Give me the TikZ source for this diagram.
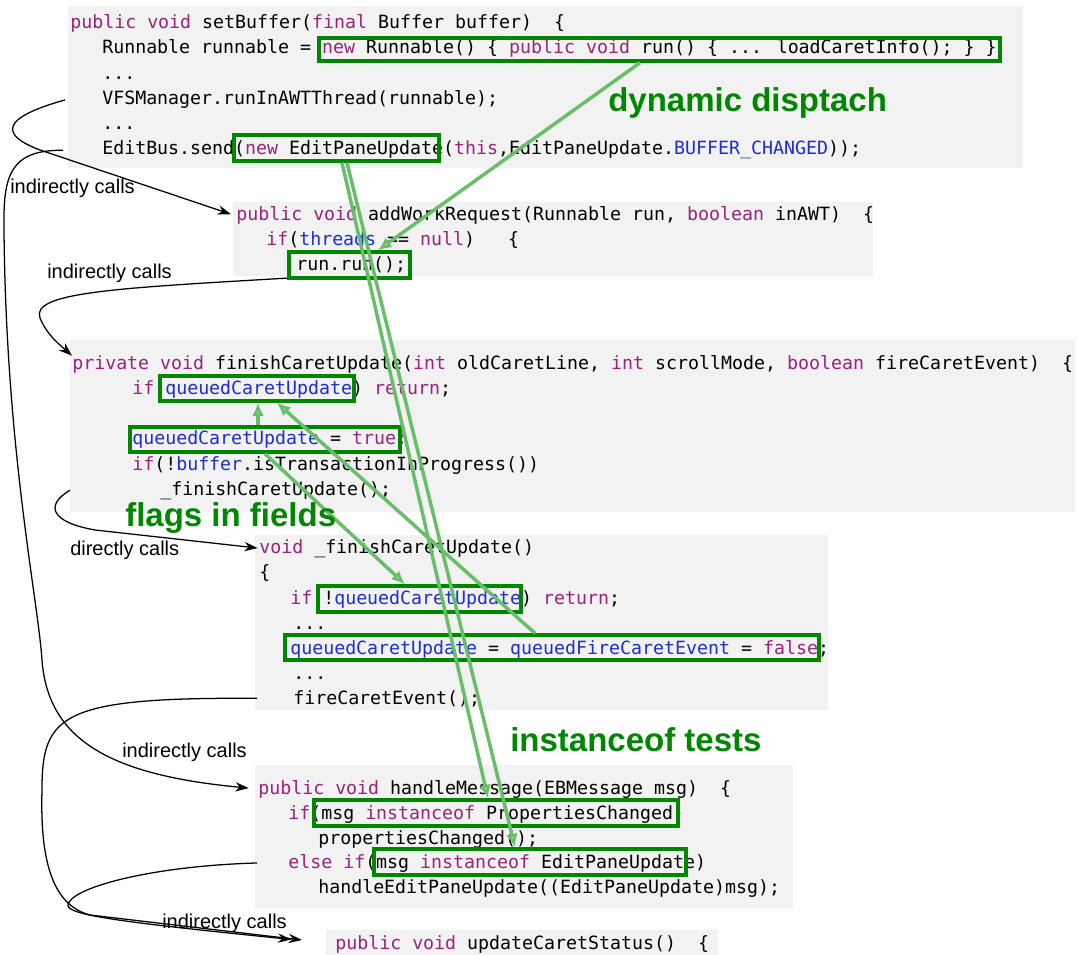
\documentclass[tikz,border=0pt]{standalone}
\usepackage{fontspec}
\setmainfont{Liberation Sans}
\newfontfamily\codefont{DejaVu Sans Mono}
\usetikzlibrary{arrows.meta,fit}

\definecolor{codebg}{RGB}{242,242,242}
\definecolor{kwcol}{RGB}{155,35,120}
\definecolor{fldcol}{RGB}{30,45,215}
\definecolor{boxgreen}{RGB}{0,135,0}
\definecolor{linkgreen}{RGB}{105,190,105}
\definecolor{tipgreen}{RGB}{175,222,175}

\newcommand{\kw}[1]{\textcolor{kwcol}{#1}}
\newcommand{\fld}[1]{\textcolor{fldcol}{#1}}

\begin{document}
\begin{tikzpicture}[x=0.75pt,y=-0.75pt,
    code/.style={font=\codefont\fontsize{13.7}{18}\selectfont, anchor=base west, inner sep=0pt},
    note/.style={font=\fontsize{15}{18}\selectfont, anchor=west, inner sep=0pt},
    tag/.style={font=\bfseries\fontsize{24.75}{28}\selectfont, text=boxgreen, anchor=west, inner sep=0pt},
    hl/.style={draw=boxgreen, line width=2.6pt, inner sep=0pt},
    flow/.style={->, >={Stealth[length=10pt,width=7pt]}, line width=0.95pt},
    link/.style={-{Latex[length=10pt,width=9pt,fill=tipgreen]}, draw=linkgreen, line width=2.6pt}]

        \useasboundingbox (0,0) rectangle (1078,955);

        %------------------
        % code blocks
        %------------------
        \fill[codebg] (68,6) rectangle (1023,168);
        \fill[codebg] (233,202) rectangle (873,276);
        \fill[codebg] (70,340) rectangle (1075,512);
        \fill[codebg] (255,535) rectangle (828,710);
        \fill[codebg] (255,765) rectangle (793,908);
        \fill[codebg] (326,930) rectangle (718,955);

        % setBuffer
        \node[code] (b1l1) at (70,29) {\kw{public} \kw{void} setBuffer(\kw{final} Buffer buffer)\ \ \{};
        \node[code] (b1l2) at (102,54) {Runnable runnable = \kw{new} Runnable() \{ \kw{public} \kw{void} run() \{ ... loadCaretInfo(); \} \}};
        \node[code] (b1l3) at (102,80) {...};
        \node[code] (b1l4) at (102,105) {VFSManager.runInAWTThread(runnable);};
        \node[code] (b1l5) at (102,130) {...};
        \node[code] (b1l6) at (102,155) {EditBus.send(\kw{new} EditPaneUpdate(\kw{this},EditPaneUpdate.\fld{BUFFER\_CHANGED}));};

        % addWorkRequest
        \node[code] (b2l1) at (236,221) {\kw{public} \kw{void} addWorkRequest(Runnable run, \kw{boolean} inAWT)\ \ \{};
        \node[code] (b2l2) at (266,246) {\kw{if}(\fld{threads} == \kw{null})\ \ \ \{};
        \node[code] (b2l3) at (296,271) {run.run();};

        % finishCaretUpdate
        \node[code] (b3l1) at (72,370) {\kw{private} \kw{void} finishCaretUpdate(\kw{int} oldCaretLine, \kw{int} scrollMode, \kw{boolean} fireCaretEvent)\ \ \{};
        \node[code] (b3l2) at (132,395) {\kw{if}(\fld{queuedCaretUpdate}) \kw{return};};
        \node[code] (b3l4) at (132,445) {\fld{queuedCaretUpdate} = \kw{true};};
        \node[code] (b3l5) at (132,470) {\kw{if}(!\fld{buffer}.isTransactionInProgress())};
        \node[code] (b3l6) at (160,495) {\_finishCaretUpdate();};

        % _finishCaretUpdate
        \node[code] (b4l1) at (259,553) {\kw{void} \_finishCaretUpdate()};
        \node[code] (b4l2) at (259,578) {\{};
        \node[code] (b4l3) at (290,604) {\kw{if}(!\fld{queuedCaretUpdate}) \kw{return};};
        \node[code] (b4l4) at (293,629) {...};
        \node[code] (b4l5) at (290,654) {\fld{queuedCaretUpdate} = \fld{queuedFireCaretEvent} = \kw{false};};
        \node[code] (b4l6) at (293,679) {...};
        \node[code] (b4l7) at (293,704) {fireCaretEvent();};

        % handleMessage
        \node[code] (b5l1) at (258,794) {\kw{public} \kw{void} handleMessage(EBMessage msg)\ \ \{};
        \node[code] (b5l2) at (288,819) {\kw{if}(msg \kw{instanceof} PropertiesChanged)};
        \node[code] (b5l3) at (318,844) {propertiesChanged();};
        \node[code] (b5l4) at (288,868) {\kw{else} \kw{if}(msg \kw{instanceof} EditPaneUpdate)};
        \node[code] (b5l5) at (318,893) {handleEditPaneUpdate((EditPaneUpdate)msg);};

        % updateCaretStatus
        \node[code] (b6l1) at (335,949) {\kw{public} \kw{void} updateCaretStatus()\ \ \{};

        %------------------
        % call edges
        %------------------
        \node[note] (ic1) at (10,188) {indirectly calls};
        \node[note] (ic2) at (47,273) {indirectly calls};
        \node[note] (dc1) at (70,550) {directly calls};
        \node[note] (ic3) at (122,752) {indirectly calls};
        \node[note] (ic4) at (162,923) {indirectly calls};

        \draw[flow, shorten >=4pt] (65,0 |- b1l4) .. controls (0,118) and (0,135) .. (40,150) -- (b2l1.west);
        \draw[flow, shorten >=7pt] (63,0 |- b1l6) .. controls (10,150) and (3,175) .. (4,230)
            .. controls (6,450) and (38,600) .. (42,660) .. controls (48,740) and (110,775) .. (b5l1.west);
        \draw[flow] (289,278) .. controls (120,288) and (30,292) .. (40,318) .. controls (47,335) and (60,345) .. (b3l1.north west);
        \draw[flow, shorten >=1pt] (70,0 |- b3l6) .. controls (45,505) and (50,522) .. (95,530) -- (b4l1.west);
        \draw[flow, shorten >=25pt] (257,0 |- b4l7) .. controls (60,697) and (42,715) .. (42,790)
            .. controls (40,860) and (52,905) .. (90,915) -- (b6l1.west);
        \draw[flow, shorten >=33pt] (257,0 |- b5l4) .. controls (150,866) and (70,888) .. (68,905)
            .. controls (67,915) and (120,922) .. (b6l1.west);

        %------------------
        % highlighted spots
        %------------------
        \node[hl, fit={(319,38) (1000,61)}] (hlRunnable) {};
        \node[hl, fit={(234,135) (439,161)}] (hlSend) {};
        \node[hl, fit={(289,252) (410,278)}] (hlRun) {};
        \node[hl, fit={(160,376) (354,401)}] (hlIf) {};
        \node[hl, fit={(130,427) (400,452)}] (hlTrue) {};
        \node[hl, fit={(318,586) (521,612)}] (hlNot) {};
        \node[hl, fit={(285,635) (819,660)}] (hlFalse) {};
        \node[hl, fit={(314,800) (678,826)}] (hlProps) {};
        \node[hl, fit={(374,849) (686,875)}] (hlEpu) {};

        \draw[link] (640,0 |- hlRunnable.south) -- (378,0 |- hlRun.north);
        \draw[link] (342,0 |- hlSend.south) -- (488,0 |- hlProps.north);
        \draw[link] (347,0 |- hlSend.south) -- (515,0 |- hlEpu.north);
        \draw[link] (265,0 |- hlTrue.south) -- (405,0 |- hlNot.north);
        \draw[link] (258,0 |- hlTrue.north) -- (258,0 |- hlIf.south);
        \draw[link] (535,0 |- hlFalse.north) -- (277,0 |- hlIf.south);

        % labels
        \node[tag] (tDyn) at (608,103) {dynamic disptach};
        \node[tag] (tFlag) at (125,518) {flags in fields};
        \node[tag] (tInst) at (510,740) {instanceof tests};
      \end{tikzpicture}
\end{document}
